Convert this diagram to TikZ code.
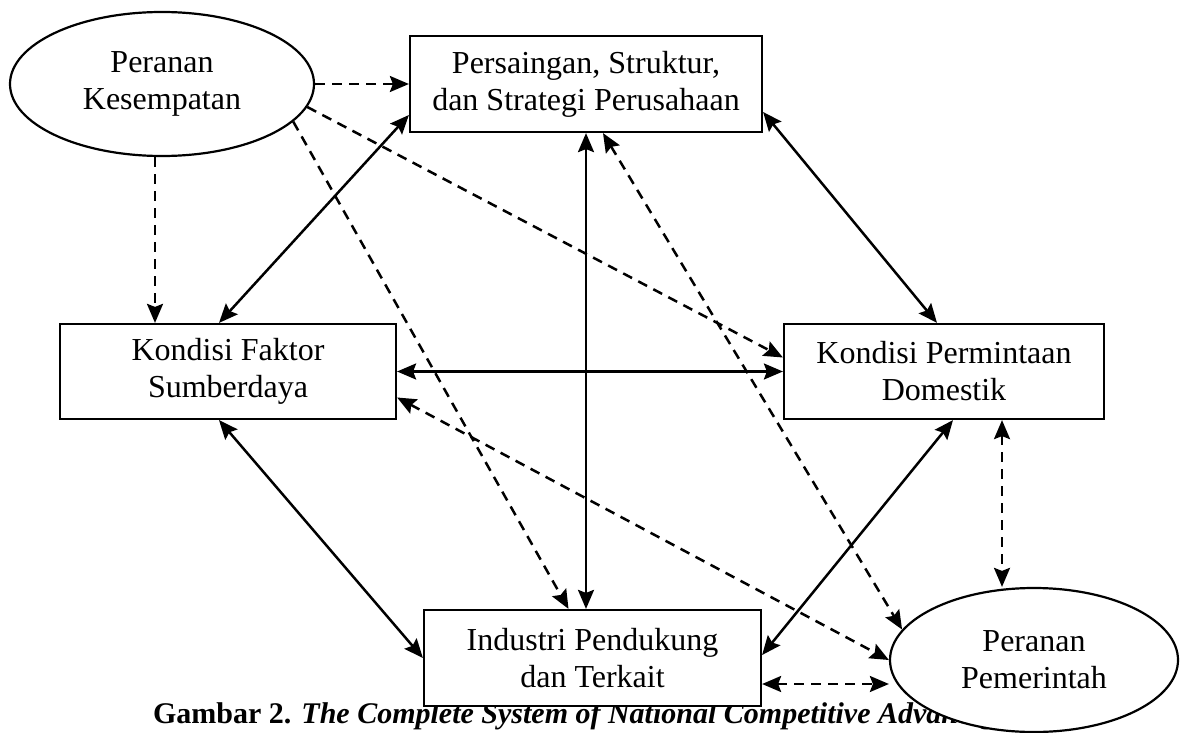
\documentclass[tikz,border=0pt]{standalone}
\usepackage{fontspec}
\setmainfont{Liberation Serif}
\usetikzlibrary{shapes.geometric,arrows.meta,calc,positioning}

\begin{document}
\begin{tikzpicture}[x=1pt,y=-1pt]
	\tikzstyle{every node} = [draw = black, line width = 2.2pt, fill = white, align = center, inner sep = 0pt, font = \fontsize{32}{37}\selectfont]
	\tikzstyle{kotak} = [rectangle]
	\tikzstyle{elips} = [ellipse]
	\tikzstyle{panah} = [line width = 2.5pt, {Stealth[length=19pt,width=16pt,inset=3pt]}-{Stealth[length=19pt,width=16pt,inset=3pt]}]
	\tikzstyle{putussatu} = [line width = 2.5pt, dash pattern = on 10pt off 7pt, -{Stealth[length=19pt,width=16pt,inset=3pt]}]
	\tikzstyle{putusdua} = [panah, dash pattern = on 10pt off 7pt]
\useasboundingbox (0,0) rectangle (1180,733);

% judul gambar
\node[draw = none, fill = none, anchor = base west, font = \fontsize{30}{34}\selectfont\bfseries] (judul) at (152, 723) {Gambar 2. \textit{The Complete System of National Competitive Advantage}};

\node[elips, minimum width = 304pt, minimum height = 144pt] (pk) at (162, 84) {Peranan\\Kesempatan};
\node[kotak, minimum width = 352pt, minimum height = 96pt] (ps) at (586, 84) {Persaingan, Struktur,\\dan Strategi Perusahaan};
\node[kotak, minimum width = 336pt, minimum height = 95pt] (kf) at (228, 371.5) {Kondisi Faktor\\Sumberdaya};
\node[kotak, minimum width = 320pt, minimum height = 95pt] (kp) at (944, 371.5) {Kondisi Permintaan\\Domestik};
\node[kotak, minimum width = 337pt, minimum height = 96pt] (ip) at (592.5, 658) {Industri Pendukung\\dan Terkait};
\node[elips, minimum width = 288pt, minimum height = 144pt] (pp) at (1034, 660) {Peranan\\Pemerintah};

	% dari peranan kesempatan
	\path[draw, putussatu] (pk.east) -- (ps.west);
	\path[draw, putussatu] ([xshift=-7pt]pk.south) -- ([xshift=-7pt]pk.south |- kf.north);
	\path[draw, putussatu] (pk.-9) -- ([yshift=14pt]kp.west);
	\path[draw, putussatu] (pk.-16) -- ([xshift=-24pt]ip.north);
	% berlian
	\path[draw, panah] ([xshift=-9pt]kf.north) -- ([yshift=-31pt]ps.west);
	\path[draw, panah] (ps.south) -- (ps.south |- ip.north);
	\path[draw, panah] ([yshift=-28pt]ps.east) -- ([xshift=-7pt]kp.north);
	\path[draw, panah] (kf.east) -- (kp.west);
	\path[draw, panah] ([xshift=-9pt]kf.south) -- (ip.west);
	\path[draw, panah] ([yshift=3pt]ip.east) -- ([xshift=9pt]kp.south);
	% peranan pemerintah
	\path[draw, putusdua] ([xshift=58pt]kp.south) -- ([xshift=58pt]kp.south |- pp.north);
	\path[draw, putusdua] ([yshift=-26pt]ip.east) -- ([yshift=-26pt]ip.east -| pp.west);
	\path[draw, putusdua] ([xshift=17pt]ps.south) -- (pp.167);
	\path[draw, putusdua] ([yshift=-26pt]kf.east) -- (pp.west);
\end{tikzpicture}
\end{document}
